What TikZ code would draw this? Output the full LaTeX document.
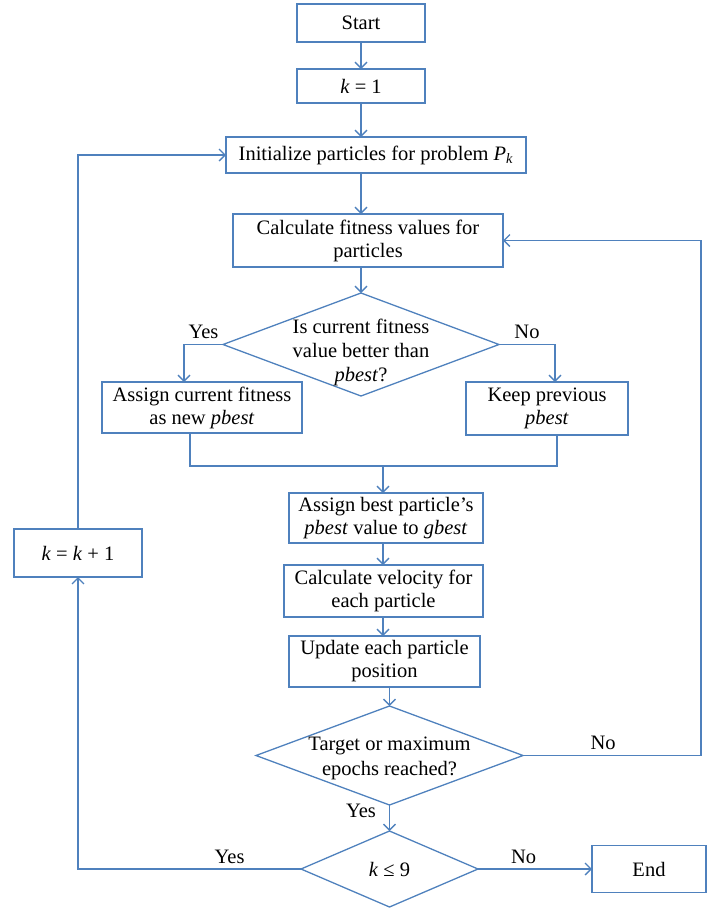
\documentclass[tikz,border=0pt]{standalone}
\usepackage{fontspec}
\setmainfont{Liberation Serif}
\usetikzlibrary{arrows.meta,positioning,shapes.geometric}
\definecolor{lineblue}{HTML}{4F81BD}
\tikzset{
stepbox/.style={draw=lineblue,line width=1.3pt,outer sep=0pt,align=center,inner sep=2pt,font=\fontsize{20.5}{23}\selectfont},
decision/.style={draw=lineblue,line width=1.3pt,outer sep=0pt,diamond,aspect=2.6,inner sep=-12pt,align=center,font=\fontsize{20.5}{23}\selectfont},
dtext/.style={align=center,inner sep=0pt,font=\fontsize{20.5}{24}\selectfont},
flow/.style={draw=lineblue,line width=1.3pt,-{Straight Barb[length=6pt,width=12pt]}},
link/.style={draw=lineblue,line width=1.3pt},
lbl/.style={font=\fontsize{20.5}{23}\selectfont,inner sep=5pt}
}

\begin{document}
\begin{tikzpicture}[x=1pt,y=-1pt]
\useasboundingbox (0,0) rectangle (708,911);
\node[stepbox,minimum width=128pt,minimum height=38pt](start) at (361,23){Start};
\node[stepbox,minimum width=128pt,minimum height=34pt,below=27pt of start](k1){\textit{k} = 1};
\node[stepbox,minimum width=300pt,minimum height=36pt,below=34pt of k1,xshift=15pt](init){Initialize particles for problem \textit{P}\textsubscript{\textit{k}}};
\node[stepbox,minimum width=270pt,minimum height=53pt,below=41pt of init,xshift=-8pt](calc){Calculate fitness values for\\particles};
\node[decision,minimum width=276pt,minimum height=103pt,below=26pt of calc,xshift=-7pt,
  label={[dtext,yshift=-8pt]center:Is current fitness\\value better than\\\textit{pbest}?}](d1){};
\node[stepbox,minimum width=200pt,minimum height=51pt](assignc) at (202,407.5){Assign current fitness\\as new \textit{pbest}};
\node[stepbox,minimum width=162pt,minimum height=53pt](keep) at (547,408.5){Keep previous\\\textit{pbest}};
\node[stepbox,minimum width=194pt,minimum height=50pt,below=97pt of d1,xshift=25pt](assignb){Assign best particle’s\\\textit{pbest} value to \textit{gbest}};
\node[stepbox,minimum width=199pt,minimum height=52pt,below=22pt of assignb,xshift=-2.5pt](vel){Calculate velocity for\\each particle};
\node[stepbox,minimum width=191pt,minimum height=51pt,below=19pt of vel,xshift=1pt](upd){Update each particle\\position};
\node[decision,minimum width=267pt,minimum height=99pt,below=19pt of upd,xshift=5pt,
  label={[dtext,yshift=-3pt,font=\fontsize{20.5}{25}\selectfont]center:Target or maximum\\epochs reached?}](d2){};
\node[decision,minimum width=177pt,minimum height=76pt,below=26pt of d2](d3){\textit{k} ≤ 9};
\node[stepbox,minimum width=114pt,minimum height=47pt,right=114pt of d3](endb){End};
\node[stepbox,minimum width=128pt,minimum height=48pt](kk) at (78,553){\textit{k} = \textit{k} + 1};
\coordinate (merge) at (383,466);
% main column
\draw[flow](start)--(k1);
\draw[flow](k1)--(k1 |- init.north);
\draw[flow](k1 |- init.south)--(k1 |- calc.north);
\draw[flow](d1 |- calc.south)--(d1.north);
\draw[flow](d1.west)-|node[lbl,pos=0.25,above]{Yes}([xshift=-18pt]assignc.north);
\draw[flow](d1.east)-|node[lbl,pos=0.25,above]{No}([xshift=8pt]keep.north);
\draw[link]([xshift=-12pt]assignc.south)|-(merge)-|([xshift=10pt]keep.south);
\draw[flow](merge)--(merge |- assignb.north);
\draw[flow](merge |- assignb.south)--(merge |- vel.north);
\draw[flow](merge |- vel.south)--(merge |- upd.north);
\draw[flow](d2 |- upd.south)--(d2.north);
% loops
\draw[flow](d2.east)--node[lbl,pos=0.45,above]{No}++(178,0)|-(calc.east);
\draw[flow](d2.south)node[lbl,inner sep=2pt,anchor=north east,xshift=-11pt,yshift=4pt]{Yes}--(d3.north);
\draw[flow](d3.east)--node[lbl,pos=0.4,above]{No}(endb.west);
\draw[flow](d3.west)-|node[lbl,pos=0.16,above]{Yes}(kk.south);
\draw[flow](kk.north)|-(init.west);
\end{tikzpicture}
\end{document}
